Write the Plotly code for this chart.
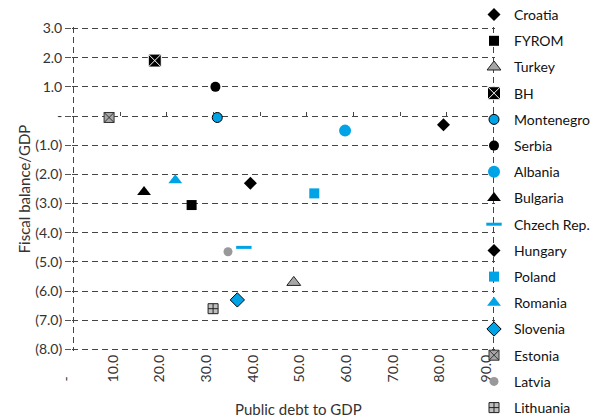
import plotly.graph_objects as go

# Public debt (% of GDP) and fiscal balance (% of GDP) by country
countries = ["Croatia", "FYROM", "Turkey", "BH", "Montenegro", "Serbia", "Albania",
             "Bulgaria", "Chzech Rep.", "Hungary", "Poland", "Romania", "Slovenia",
             "Estonia", "Latvia", "Lithuania"]
public_debt = [79.3, 25.3, 47.2, 17.4, 30.8, 30.4, 58.2,
               15.1, 36.5, 37.9, 51.6, 21.8, 35.1,
               7.6, 33.1, 29.9]
fiscal_balance = [-0.3, -3.05, -5.7, 1.9, -0.05, 1.0, -0.5,
                  -2.6, -4.5, -2.3, -2.65, -2.2, -6.3,
                  -0.05, -4.65, -6.6]

y_ticks = [3, 2, 1, 0, -1, -2, -3, -4, -5, -6, -7, -8]
y_labels = ["3.0", "2.0", "1.0", "-", "(1.0)", "(2.0)", "(3.0)", "(4.0)",
            "(5.0)", "(6.0)", "(7.0)", "(8.0)"]
x_ticks = [0, 10, 20, 30, 40, 50, 60, 70, 80, 90]
x_labels = ["-\u00a0\u00a0\u00a0\u00a0\u00a0\u00a0", "10.0", "20.0", "30.0", "40.0", "50.0",
            "60.0", "70.0", "80.0", "90.0"]

BLUE = "#00A3E6"
GREY = "#A6A6A6"
BLACK = "#000000"

# symbol, size, fill colour, outline colour, outline width
styles = {
    "Croatia": ("diamond", 10, BLACK, BLACK, 0),
    "FYROM": ("square", 10, BLACK, BLACK, 0),
    "Turkey": ("triangle-up", 12, GREY, "#222222", 1),
    "BH": ("square-x", 13, BLACK, "#FFFFFF", 1),
    "Montenegro": ("circle", 10, BLUE, BLACK, 1),
    "Serbia": ("circle", 10, BLACK, BLACK, 0),
    "Albania": ("circle", 12, BLUE, BLUE, 0),
    "Bulgaria": ("triangle-up", 12, BLACK, BLACK, 0),
    "Chzech Rep.": ("line-ew", 11, BLUE, BLUE, 3),
    "Hungary": ("diamond", 10, BLACK, BLACK, 0),
    "Poland": ("square", 10, BLUE, BLUE, 0),
    "Romania": ("triangle-up", 12, BLUE, BLUE, 0),
    "Slovenia": ("diamond", 11, BLUE, BLACK, 1),
    "Estonia": ("square-x", 10, GREY, "#333333", 1),
    "Latvia": ("circle", 9, "#999999", "#999999", 0),
    "Lithuania": ("square-cross", 10, "#BFBFBF", "#222222", 1),
}

FONT = "Lato"
TXT = "#333333"
fig = go.Figure()

for i, name in enumerate(countries):
    sym, size, fill, edge, ew = styles[name]
    fig.add_trace(go.Scatter(
        x=[public_debt[i]], y=[fiscal_balance[i]], mode="markers", name=name,
        legendgroup=name,
        marker=dict(symbol=sym, size=size, color=fill,
                    line=dict(color=edge, width=ew)),
        xaxis="x", yaxis="y",
    ))

# Small upward tick marks along the zero line
fig.add_trace(go.Scatter(x=[x_ticks[0], x_ticks[-1]], y=[0, 0], mode="markers",
                         marker=dict(opacity=0), showlegend=False, hoverinfo="skip",
                         xaxis="x3", yaxis="y"))
# Dashed frame sides at the ends of the debt range
fig.add_trace(go.Scatter(x=[x_ticks[0], x_ticks[-1]], y=[0, 0], mode="markers",
                         marker=dict(opacity=0), showlegend=False, hoverinfo="skip",
                         xaxis="x2", yaxis="y"))

grid_dash = "6px,4px"
x_range = [-0.35, 90.35]
y_range = [-8.05, 3.05]
fig.update_layout(
    width=596, height=417,
    margin=dict(l=72, r=101, t=27, b=66, autoexpand=False),
    paper_bgcolor="white", plot_bgcolor="white",
    font=dict(family=FONT, size=14, color=TXT),
    xaxis=dict(
        range=x_range, tickvals=x_ticks, ticktext=x_labels, tickangle=-90,
        showgrid=False, zeroline=False, showline=False, ticks="",
        tickfont=dict(size=14, color=TXT), ticklabelshift=-7,
    ),
    xaxis2=dict(
        range=x_range, overlaying="x", tickvals=[x_ticks[0], x_ticks[-1]],
        showticklabels=False, showgrid=True, gridcolor="#444444", gridwidth=1,
        griddash=grid_dash, zeroline=False, showline=False, ticks="",
    ),
    xaxis3=dict(
        range=x_range, overlaying="x", anchor="free",
        position=(0 - y_range[0]) / (y_range[1] - y_range[0]), side="top",
        tickvals=x_ticks[1:], showticklabels=False, showgrid=False, zeroline=False,
        showline=False, ticks="outside", ticklen=4, tickcolor="#444444", tickwidth=1,
    ),
    yaxis=dict(
        range=y_range, tickvals=y_ticks, ticktext=y_labels,
        showgrid=True, gridcolor="#444444", gridwidth=1, griddash=grid_dash,
        zeroline=False, showline=False, ticks="outside", ticklen=6,
        tickcolor="#555555", tickfont=dict(size=14, color=TXT),
        title=dict(text="Fiscal balance/GDP", font=dict(size=15, color=TXT), standoff=0),
    ),
    legend=dict(
        x=(474 - 72) / 423, xanchor="left", y=1 + 28 / 324, yanchor="top",
        font=dict(family=FONT, size=14, color="#111111"),
        tracegroupgap=5, itemsizing="trace", bgcolor="rgba(0,0,0,0)",
        maxheight=600,
    ),
    annotations=[dict(
        text="Public debt to GDP", xref="paper", yref="paper",
        x=(298 - 72) / 423, y=0, yshift=-58, xanchor="center", yanchor="middle",
        showarrow=False, font=dict(size=15, color=TXT),
    )],
    showlegend=True,
)

fig.write_html("out.html")
